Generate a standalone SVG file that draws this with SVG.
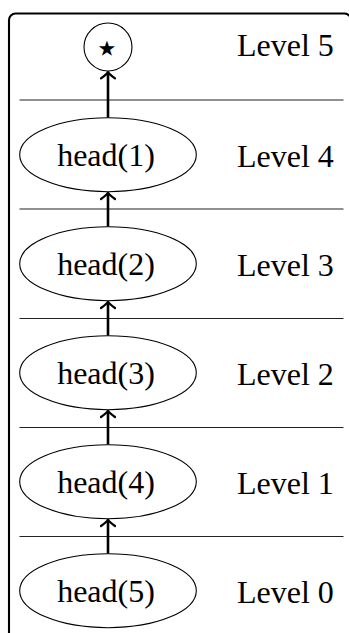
<svg xmlns="http://www.w3.org/2000/svg" width="349" height="633" viewBox="0 0 349 633">
  <style>
    .frame { fill: none; stroke: #000; stroke-width: 2.1; }
    .sep { stroke: #222; stroke-width: 1.2; }
    .node { fill: #fff; stroke: #000; stroke-width: 1.1; }
    .edge { stroke: #000; stroke-width: 2.6; fill: none; marker-end: url(#tip); }
    .lbl { font-size: 32px; fill: #000; }
    .mid { text-anchor: middle; }
    .star { font-family: "DejaVu Sans", sans-serif; font-size: 42px; fill: #000; text-anchor: middle; }
  </style>
  <defs>
    <marker id="tip" viewBox="-10 -9 12 18" refX="0.8" refY="0" markerWidth="12" markerHeight="18" markerUnits="userSpaceOnUse" orient="auto">
      <path d="M-6,-7 Q-1.5,-1 0,0 Q-1.5,1 -6,7" fill="none" stroke="#000" stroke-width="2.2" stroke-linecap="round"/>
    </marker>
  </defs>

  <!-- outer frame, right and bottom run past the canvas -->
  <rect class="frame" x="9" y="13.5" width="342" height="640" rx="6.5" ry="6.5"/>

  <!-- level separators -->
  <g id="separators">
    <line class="sep" x1="19.5" y1="100" x2="343.5" y2="100"/>
    <line class="sep" x1="19.5" y1="209" x2="343.5" y2="209"/>
    <line class="sep" x1="19.5" y1="318.5" x2="343.5" y2="318.5"/>
    <line class="sep" x1="19.5" y1="427.5" x2="343.5" y2="427.5"/>
    <line class="sep" x1="19.5" y1="536.5" x2="343.5" y2="536.5"/>
  </g>

  <!-- connectors -->
  <g id="edges">
    <line class="edge" x1="108" y1="117.7" x2="108" y2="71.5"/>
    <line class="edge" x1="108" y1="226.7" x2="108" y2="192.2"/>
    <line class="edge" x1="108" y1="335.7" x2="108" y2="301.2"/>
    <line class="edge" x1="108" y1="444.7" x2="108" y2="410.2"/>
    <line class="edge" x1="108" y1="553.7" x2="108" y2="519.2"/>
  </g>

  <g font-family="'Liberation Serif', 'Times New Roman', serif">
    <g id="top">
      <circle class="node" cx="108" cy="47" r="24"/>
      <text class="star" x="107" y="61.5">⋆</text>
    </g>
    <g id="head1">
      <ellipse class="node" cx="108" cy="154.7" rx="88.3" ry="37"/>
      <text class="lbl mid" x="106" y="166">head(1)</text>
    </g>
    <g id="head2">
      <ellipse class="node" cx="108" cy="263.7" rx="88.3" ry="37"/>
      <text class="lbl mid" x="106" y="275">head(2)</text>
    </g>
    <g id="head3">
      <ellipse class="node" cx="108" cy="372.7" rx="88.3" ry="37"/>
      <text class="lbl mid" x="106" y="384">head(3)</text>
    </g>
    <g id="head4">
      <ellipse class="node" cx="108" cy="481.7" rx="88.3" ry="37"/>
      <text class="lbl mid" x="106" y="493">head(4)</text>
    </g>
    <g id="head5">
      <ellipse class="node" cx="108" cy="590.7" rx="88.3" ry="37"/>
      <text class="lbl mid" x="106" y="602">head(5)</text>
    </g>

    <!-- level names -->
    <g id="levels">
      <text class="lbl" x="237" y="56">Level 5</text>
      <text class="lbl" x="237" y="166.5">Level 4</text>
      <text class="lbl" x="237" y="275.5">Level 3</text>
      <text class="lbl" x="237" y="384.5">Level 2</text>
      <text class="lbl" x="237" y="493.5">Level 1</text>
      <text class="lbl" x="237" y="602.5">Level 0</text>
    </g>
  </g>
</svg>
